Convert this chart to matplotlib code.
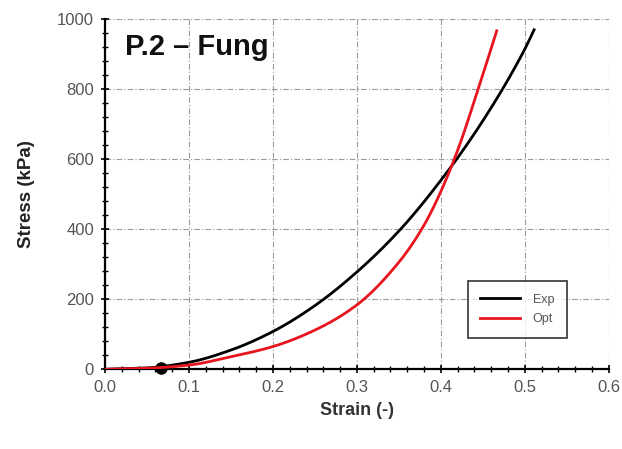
import matplotlib
matplotlib.use("Agg")
import matplotlib.pyplot as plt
from matplotlib.ticker import MultipleLocator, FormatStrFormatter
import numpy as np

plt.rcParams['font.family'] = ['Liberation Sans', 'DejaVu Sans']

# Data
exp_strain = [0.0, 0.05, 0.10, 0.15, 0.20, 0.25, 0.30, 0.35, 0.40, 0.45, 0.50, 0.511]
exp_stress = [0, 4, 20, 55, 108, 182, 278, 395, 540, 710, 915, 970]

opt_strain = [0.0, 0.05, 0.10, 0.15, 0.20, 0.25, 0.30, 0.35, 0.38, 0.40, 0.42, 0.445, 0.4665]
opt_stress = [0, 3, 12, 36, 65, 112, 184, 306, 412, 508, 626, 805, 967]

point_strain = [0.067]
point_stress = [5]

title_text = "P.2 \u2013 Fung"
series_labels = ["Exp", "Opt"]

fig = plt.figure(figsize=(6.22, 4.49), dpi=100)
ax = fig.add_axes([0.1688, 0.1775, 0.810, 0.7795])

def smooth(xs, ys, n=200):
    xs = np.asarray(xs, dtype=float); ys = np.asarray(ys, dtype=float)
    h = np.diff(xs); d = np.diff(ys) / h
    m = np.zeros_like(ys)
    m[0] = d[0]; m[-1] = d[-1]
    for i in range(1, len(xs) - 1):
        if d[i-1] * d[i] <= 0:
            m[i] = 0
        else:
            w1 = 2*h[i] + h[i-1]; w2 = h[i] + 2*h[i-1]
            m[i] = (w1 + w2) / (w1 / d[i-1] + w2 / d[i])
    xx = np.linspace(xs[0], xs[-1], n)
    yy = np.empty_like(xx)
    for j, x in enumerate(xx):
        k = min(np.searchsorted(xs, x, side='right') - 1, len(xs) - 2)
        t = (x - xs[k]) / h[k]
        h00 = 2*t**3 - 3*t**2 + 1; h10 = t**3 - 2*t**2 + t
        h01 = -2*t**3 + 3*t**2; h11 = t**3 - t**2
        yy[j] = h00*ys[k] + h10*h[k]*m[k] + h01*ys[k+1] + h11*h[k]*m[k+1]
    return xx, yy

ex, ey = smooth(exp_strain, exp_stress)
ox, oy = smooth(opt_strain, opt_stress)

ax.plot(point_strain, point_stress, 'o', color='black', markersize=8, zorder=2, clip_on=False)
ax.plot(ex, ey, color='black', lw=2.0, label=series_labels[0], zorder=3)
ax.plot(ox, oy, color='#e8141e', lw=2.0, label=series_labels[1], zorder=4)

ax.set_xlim(0, 0.6)
ax.set_ylim(0, 1000)
ax.xaxis.set_major_locator(MultipleLocator(0.1))
ax.xaxis.set_minor_locator(MultipleLocator(0.02))
ax.yaxis.set_major_locator(MultipleLocator(200))
ax.yaxis.set_minor_locator(MultipleLocator(40))
ax.xaxis.set_major_formatter(FormatStrFormatter('%.1f'))

for s in ['top', 'right']:
    ax.spines[s].set_visible(False)
for s in ['left', 'bottom']:
    ax.spines[s].set_linewidth(1.6)
    ax.spines[s].set_color('black')

ax.tick_params(which='major', direction='inout', length=6, width=1.2, labelsize=12,
               labelcolor='#555555', pad=5)
ax.tick_params(which='minor', direction='inout', length=4, width=1.0)

ax.grid(True, which='major', color='#9a9a9a', linestyle=(0, (5, 2, 1, 2)), linewidth=0.8)
ax.set_axisbelow(True)

ax.set_xlabel("Strain (-)", fontsize=13, fontweight='bold', color='#333333', labelpad=5)
ax.set_ylabel("Stress (kPa)", fontsize=13.5, fontweight='bold', color='#222222', labelpad=16)

ax.text(0.04, 0.92, title_text, transform=ax.transAxes, fontsize=21, fontweight='bold',
        color='#111111', va='center', ha='left')

leg = ax.legend(loc='lower right', bbox_to_anchor=(0.929, 0.072), fontsize=9,
                frameon=True, fancybox=False, edgecolor='black', handlelength=3.2,
                borderpad=1.0, labelspacing=0.6, handletextpad=1.0)
leg.get_frame().set_linewidth(1.2)
for t in leg.get_texts():
    t.set_color('#555555')

fig.savefig("out.png", dpi=100)
